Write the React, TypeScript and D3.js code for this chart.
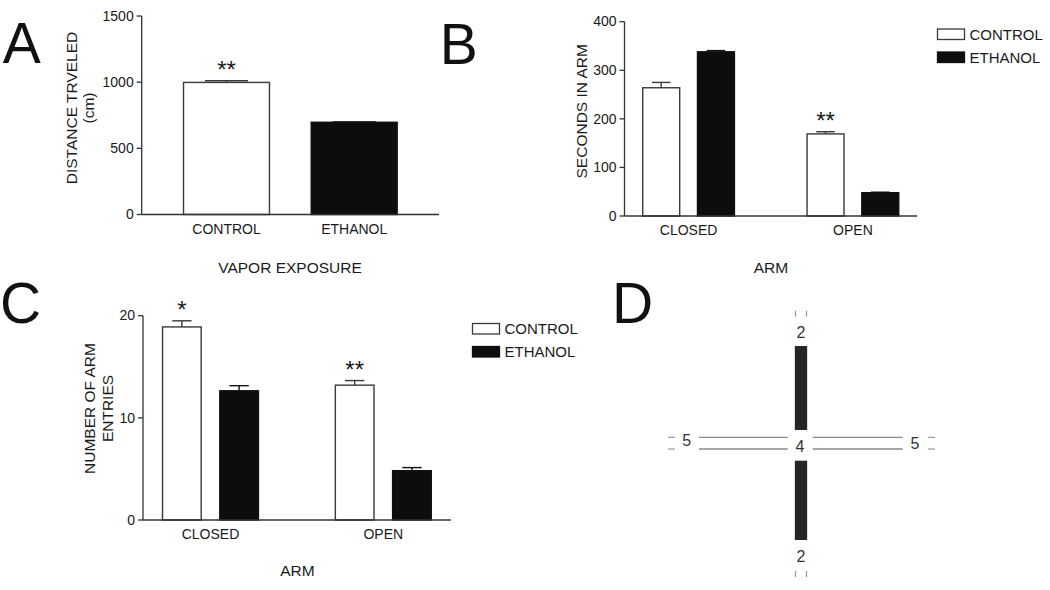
import React from "react";
import * as d3 from "d3";

// ---------- DATA ----------
const exposureGroups = ["CONTROL", "ETHANOL"];
const distanceMean = [998, 697];
const distanceErr = [13, 3];
const distanceSig = ["**", ""];
const distanceTicks = [0, 500, 1000, 1500];

const arms = ["CLOSED", "OPEN"];
const seriesNames = ["CONTROL", "ETHANOL"];

const secondsControl = [264, 169];
const secondsControlErr = [11, 4.5];
const secondsEthanol = [338, 48];
const secondsEthanolErr = [2.5, 1];
const secondsSig = ["", "**"];
const secondsTicks = [0, 100, 200, 300, 400];

const entriesControl = [18.9, 13.2];
const entriesControlErr = [0.6, 0.45];
const entriesEthanol = [12.65, 4.83];
const entriesEthanolErr = [0.5, 0.3];
const entriesSig = ["*", "**"];
const entriesTicks = [0, 10, 20];

// maze diagram labels (panel D)
const mazeClosedLabel = "2";
const mazeOpenLabel = "5";
const mazeCenterLabel = "4";

// ---------- STYLE ----------
const FONT = "'Liberation Sans', Arial, Helvetica, sans-serif";
const TXT = "#1a1a1a";
const AXIS = "#333";
const OUTLINE = "#3a3a3a";
const FILLS = ["#ffffff", "#0d0d0d"];

function YAxis({ y, x, ticks }: { y: d3.ScaleLinear<number, number>; x: number; ticks: number[] }) {
  const [y0, y1] = y.range();
  return (
    <g>
      <line x1={x} x2={x} y1={y0} y2={y1} stroke={AXIS} strokeWidth={1.3} />
      {ticks.map((t) => (
        <g key={t}>
          <line x1={x - 5} x2={x} y1={y(t)} y2={y(t)} stroke={AXIS} strokeWidth={1.3} />
          <text x={x - 8} y={y(t)} dy="0.34em" textAnchor="end" fontSize={14} fill={TXT} fontFamily={FONT}>
            {t}
          </text>
        </g>
      ))}
    </g>
  );
}

function Bar({ x, w, y, v, e, fill }: { x: number; w: number; y: d3.ScaleLinear<number, number>; v: number; e: number; fill: string }) {
  const cx = x + w / 2;
  const top = y(v + e);
  return (
    <g>
      <line x1={cx} x2={cx} y1={y(v)} y2={top} stroke={fill === FILLS[1] ? "#111" : OUTLINE} strokeWidth={1.4} />
      <line x1={cx - w / 4} x2={cx + w / 4} y1={top} y2={top} stroke={fill === FILLS[1] ? "#111" : OUTLINE} strokeWidth={1.4} />
      <rect x={x} y={y(v)} width={w} height={y(0) - y(v)} fill={fill} stroke={fill === FILLS[1] ? "#111" : OUTLINE} strokeWidth={1.4} />
    </g>
  );
}

function Star({ x, yTop, s }: { x: number; yTop: number; s: string }) {
  if (!s) return null;
  return (
    <text x={x} y={yTop - 3} textAnchor="middle" fontSize={24} fill={TXT} fontFamily={FONT}>
      {s}
    </text>
  );
}

function PanelLetter({ x, y, c }: { x: number; y: number; c: string }) {
  return (
    <text x={x} y={y} fontSize={57} fill="#111" fontFamily={FONT}>
      {c}
    </text>
  );
}

function Legend({ x, y }: { x: number; y: number }) {
  return (
    <g>
      {seriesNames.map((n, i) => (
        <g key={n} transform={`translate(${x},${y + i * 23})`}>
          <rect x={0} y={0} width={27} height={10.5} fill={FILLS[i]} stroke={i ? "#111" : OUTLINE} strokeWidth={1.3} />
          <text x={32} y={10.5} fontSize={15} fill={TXT} fontFamily={FONT}>
            {n}
          </text>
        </g>
      ))}
    </g>
  );
}

function PanelA() {
  const x0 = 141.7, x1 = 439, yT = 16, yB = 214.5;
  const y = d3.scaleLinear().domain([0, 1500]).range([yB, yT]);
  const x = d3.scaleBand<string>().domain(exposureGroups).range([x0, x1]).paddingInner(0.327).paddingOuter(0.3275);
  return (
    <g>
      <PanelLetter x={2.7} y={63.3} c="A" />
      {exposureGroups.map((g, i) => (
        <g key={g}>
          <Bar x={x(g)!} w={x.bandwidth()} y={y} v={distanceMean[i]} e={distanceErr[i]} fill={FILLS[i]} />
          <Star x={x(g)! + x.bandwidth() / 2} yTop={y(distanceMean[i] + distanceErr[i])} s={distanceSig[i]} />
          <text x={x(g)! + x.bandwidth() / 2} y={233.5} textAnchor="middle" fontSize={14} fill={TXT} fontFamily={FONT}>
            {g}
          </text>
        </g>
      ))}
      <line x1={x0} x2={x1} y1={yB} y2={yB} stroke={AXIS} strokeWidth={1.3} />
      <YAxis y={y} x={x0} ticks={distanceTicks} />
      <text transform={`translate(77.3,108) rotate(-90)`} textAnchor="middle" fontSize={15.5} fill={TXT} fontFamily={FONT}>
        DISTANCE TRVELED
      </text>
      <text transform={`translate(93.5,108) rotate(-90)`} textAnchor="middle" fontSize={15.5} fill={TXT} fontFamily={FONT}>
        (cm)
      </text>
      <text x={290} y={273.3} textAnchor="middle" fontSize={15.5} fill={TXT} fontFamily={FONT}>
        VAPOR EXPOSURE
      </text>
    </g>
  );
}

function GroupedPanel(props: {
  x0: number; x1: number; yT: number; yB: number; max: number; ticks: number[];
  ctrl: number[]; ctrlErr: number[]; eth: number[]; ethErr: number[]; sig: string[];
  catY: number; titleX: number[]; titleLines: string[]; titleY: number; xTitle: [number, number];
  pad: [number, number];
}) {
  const { x0, x1, yT, yB, max, ticks, ctrl, ctrlErr, eth, ethErr, sig } = props;
  const y = d3.scaleLinear().domain([0, max]).range([yB, yT]);
  const xg = d3.scaleBand<string>().domain(arms).range([x0, x1]).paddingInner(props.pad[0]).paddingOuter(props.pad[1]);
  const xs = d3.scaleBand<string>().domain(seriesNames).range([0, xg.bandwidth()]).paddingInner(0.325);
  const vals = [ctrl, eth];
  const errs = [ctrlErr, ethErr];
  return (
    <g>
      {arms.map((a, ai) => (
        <g key={a}>
          {seriesNames.map((s, si) => (
            <Bar key={s} x={xg(a)! + xs(s)!} w={xs.bandwidth()} y={y} v={vals[si][ai]} e={errs[si][ai]} fill={FILLS[si]} />
          ))}
          <Star x={xg(a)! + xs(seriesNames[0])! + xs.bandwidth() / 2} yTop={y(ctrl[ai] + ctrlErr[ai])} s={sig[ai]} />
          <text x={xg(a)! + xg.bandwidth() / 2} y={props.catY} textAnchor="middle" fontSize={14} fill={TXT} fontFamily={FONT}>
            {a}
          </text>
        </g>
      ))}
      <line x1={x0} x2={x1} y1={yB} y2={yB} stroke={AXIS} strokeWidth={1.3} />
      <YAxis y={y} x={x0} ticks={ticks} />
      {props.titleLines.map((t, i) => (
        <text key={t} transform={`translate(${props.titleX[i]},${props.titleY}) rotate(-90)`} textAnchor="middle" fontSize={15.5} fill={TXT} fontFamily={FONT}>
          {t}
        </text>
      ))}
      <text x={props.xTitle[0]} y={props.xTitle[1]} textAnchor="middle" fontSize={15.5} fill={TXT} fontFamily={FONT}>
        ARM
      </text>
    </g>
  );
}

function PanelD() {
  const cx = 801, cy = 443.2;
  const barW = 12.3, gap = 5.85;
  const grey = "#8a8a8a";
  const dash = "#9a9a9a";
  const num = { fontSize: 16, fill: "#333", fontFamily: FONT, textAnchor: "middle" as const };
  return (
    <g>
      <PanelLetter x={612} y={323.3} c="D" />
      {/* closed arms */}
      <rect x={cx - barW / 2} y={346} width={barW} height={430 - 346} fill="#262626" />
      <rect x={cx - barW / 2} y={460.7} width={barW} height={540 - 460.7} fill="#262626" />
      {/* open arms */}
      {[-1, 1].map((s) => (
        <g key={s}>
          <line x1={699} x2={787.7} y1={cy + s * gap} y2={cy + s * gap} stroke={grey} strokeWidth={1.4} />
          <line x1={812.7} x2={902.7} y1={cy + s * gap} y2={cy + s * gap} stroke={grey} strokeWidth={1.4} />
          <line x1={668} x2={675} y1={cy + s * gap} y2={cy + s * gap} stroke={dash} strokeWidth={1.2} />
          <line x1={928} x2={935} y1={cy + s * gap} y2={cy + s * gap} stroke={dash} strokeWidth={1.2} />
          <line x1={cx + s * 5.5} x2={cx + s * 5.5} y1={310.7} y2={316.7} stroke={dash} strokeWidth={1.2} />
          <line x1={cx + s * 5.5} x2={cx + s * 5.5} y1={571} y2={577} stroke={dash} strokeWidth={1.2} />
        </g>
      ))}
      <text x={cx} y={338} {...num}>{mazeClosedLabel}</text>
      <text x={cx} y={561.8} {...num}>{mazeClosedLabel}</text>
      <text x={cx - 1} y={451.5} {...num}>{mazeCenterLabel}</text>
      <text x={686.7} y={445.8} {...num}>{mazeOpenLabel}</text>
      <text x={915} y={448.5} {...num}>{mazeOpenLabel}</text>
    </g>
  );
}

export default function App() {
  return (
    <svg width={1050} height={590} style={{ position: "absolute", left: 0, top: 0, background: "#fff" }}>
      <rect width={1050} height={590} fill="#fff" />
      <PanelA />
      <PanelLetter x={439.7} y={64} c="B" />
      <GroupedPanel
        x0={624.5} x1={917} yT={21.7} yB={216} max={400} ticks={secondsTicks}
        ctrl={secondsControl} ctrlErr={secondsControlErr} eth={secondsEthanol} ethErr={secondsEthanolErr} sig={secondsSig}
        catY={235} titleX={[587]} titleLines={["SECONDS IN ARM"]} titleY={111.3} xTitle={[771, 273.3]} pad={[0.442, 0.111]}
      />
      <Legend x={937.5} y={29} />
      <PanelLetter x={0} y={323} c="C" />
      <GroupedPanel
        x0={143} x1={450.8} yT={315.7} yB={520} max={20} ticks={entriesTicks}
        ctrl={entriesControl} ctrlErr={entriesControlErr} eth={entriesEthanol} ethErr={entriesEthanolErr} sig={entriesSig}
        catY={539.3} titleX={[95, 112.7]} titleLines={["NUMBER OF ARM", "ENTRIES"]} titleY={408.5} xTitle={[297.4, 576]} pad={[0.445, 0.113]}
      />
      <Legend x={472.5} y={323.5} />
      <PanelD />
    </svg>
  );
}
